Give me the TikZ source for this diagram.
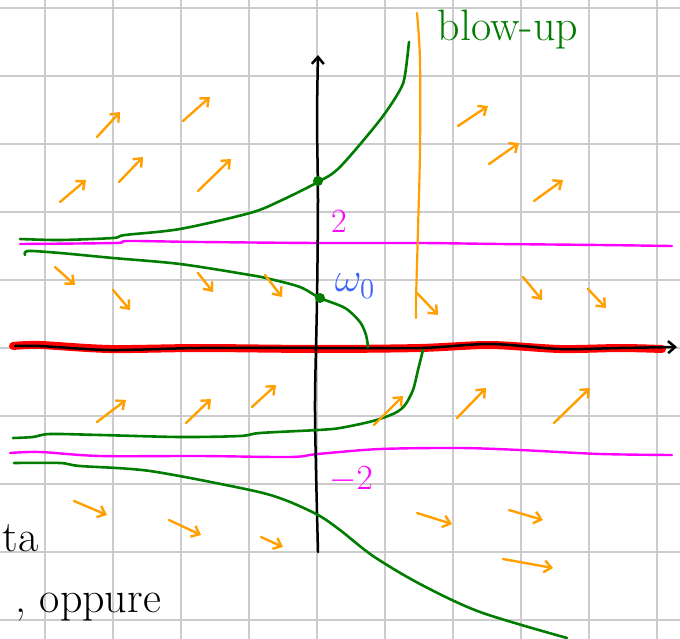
\documentclass[tikz,border=0pt]{standalone}
\usepackage{amsmath,amssymb}
\usepackage{tikz}
\usetikzlibrary{arrows.meta}
\definecolor{gridgray}{RGB}{204,204,204}
\definecolor{solgreen}{RGB}{0,125,0}
\definecolor{fieldorange}{RGB}{255,160,0}
\definecolor{eqmagenta}{RGB}{255,0,255}
\definecolor{datablue}{RGB}{60,100,255}
\tikzset{
  flow/.style={->,draw=fieldorange,line width=2.4pt},
  sol/.style={draw=solgreen,line width=2.6pt},
  equil/.style={draw=eqmagenta,line width=2.4pt},
  hand/.style={font=\fontsize{44}{44}\selectfont}
}
\begin{document}
\begin{tikzpicture}[x=1pt,y=-1pt,line cap=round,line join=round,
  >={Straight Barb[length=7pt,width=12pt]}]

\useasboundingbox (0,0) rectangle (680,639);
\fill[white] (0,0) rectangle (680,639);

% Squared paper
\foreach \k in {0,...,9}
{
\draw[gridgray,line width=2pt] (45+68*\k,0)--(45+68*\k,639);
\draw[gridgray,line width=2pt] (0,8+68*\k)--(680,8+68*\k);
}

% Equilibria y = 2 and y = -2
\draw[equil] plot[smooth] coordinates {(20,244) (115,243) (128,241) (200,242) (318,243) (420,243) (500,244) (600,245) (672,246)};
\draw[equil] plot[smooth] coordinates {(10,453) (40,452) (100,456) (200,456) (290,457) (318,454) (380,449) (460,448) (520,450) (600,454) (672,455)};
\node[eqmagenta,font=\fontsize{20}{20}\selectfont,scale=1.7] (ltwo) at (339,221) {2};
\node[eqmagenta,font=\fontsize{20}{20}\selectfont,scale=1.7] (lmtwo) at (351,480) {$-2$};

% Time axis (red, y = 0)
\draw[red,line width=8pt] plot[smooth] coordinates {(13,346) (40,345) (110,349) (200,348) (318,349) (420,348) (490,345) (560,349) (620,348) (662,349)};
\draw[->,line width=2.5pt] plot[smooth] coordinates {(15,346) (40,346) (110,350) (200,348) (318,348) (420,348) (490,344) (560,349) (620,348) (677,347)};

% Vertical axis
\draw[->,line width=2.5pt] plot[smooth] coordinates {(318,552) (316,470) (315,400) (317,300) (318,200) (317,120) (318,55)};

% Orange line towards blow-up
\draw[fieldorange,line width=2.2pt] plot[smooth] coordinates {(417,13) (420,60) (420,150) (418,230) (416,300) (416,318)};
\node[solgreen,hand] (lblow) at (508,30) {blow-up};

% Solutions
\draw[sol] plot[smooth] coordinates {(20,239) (60,240) (113,238) (125,235) (180,229) (250,213) (280,201) (318,182) (340,167) (380,120) (400,90) (405,75) (409,42)};
\draw[sol] plot[smooth] coordinates {(25,255) (28,251) (60,253) (113,258) (180,264) (250,275) (270,279) (300,287) (320,298) (345,308) (360,322) (366,335) (368,347)};
\draw[sol] plot[smooth] coordinates {(13,438) (33,437) (50,434) (100,435) (180,437) (240,436) (260,433) (318,430) (340,428) (373,421) (395,413) (405,405) (413,390) (418,370) (423,350)};
\draw[sol] plot[smooth] coordinates {(14,463) (60,463) (80,466) (150,471) (250,490) (285,500) (318,515) (340,530) (373,556) (420,584) (480,612) (567,638)};

% Initial data
\fill[solgreen] (318,181) circle (5);
\fill[solgreen] (320,298) circle (5);
\node[datablue,font=\fontsize{20}{20}\selectfont,scale=2] (lomega) at (355,286) {$\omega_0$};

% Direction field
\foreach \a/\b/\c/\d in {97/137/120/112, 183/121/210/97, 60/202/86/180, 119/182/143/157, 198/191/231/159,
  458/126/488/106, 489/164/519/143, 534/201/563/180,
  97/422/126/400, 186/423/211/399, 252/407/276/385, 374/425/403/396, 457/418/486/388, 554/423/590/388}
{
\draw[flow] (\a,\b)--(\c,\d);
}
\foreach \a/\b/\c/\d in {55/267/75/285, 113/290/130/310, 198/273/213/292, 265/275/282/297,
  417/293/438/315, 523/277/542/300, 588/289/606/308,
  74/501/107/515, 169/520/201/535, 261/537/283/547, 417/513/452/524, 509/510/543/520, 503/559/553/568}
{
\draw[flow] (\a,\b)--(\c,\d);
}

% Notes
\node[hand,anchor=base east] (lta) at (42,551) {ta};
\node[hand,anchor=base west] (loppure) at (12,612) {, oppure};

\end{tikzpicture}
\end{document}
